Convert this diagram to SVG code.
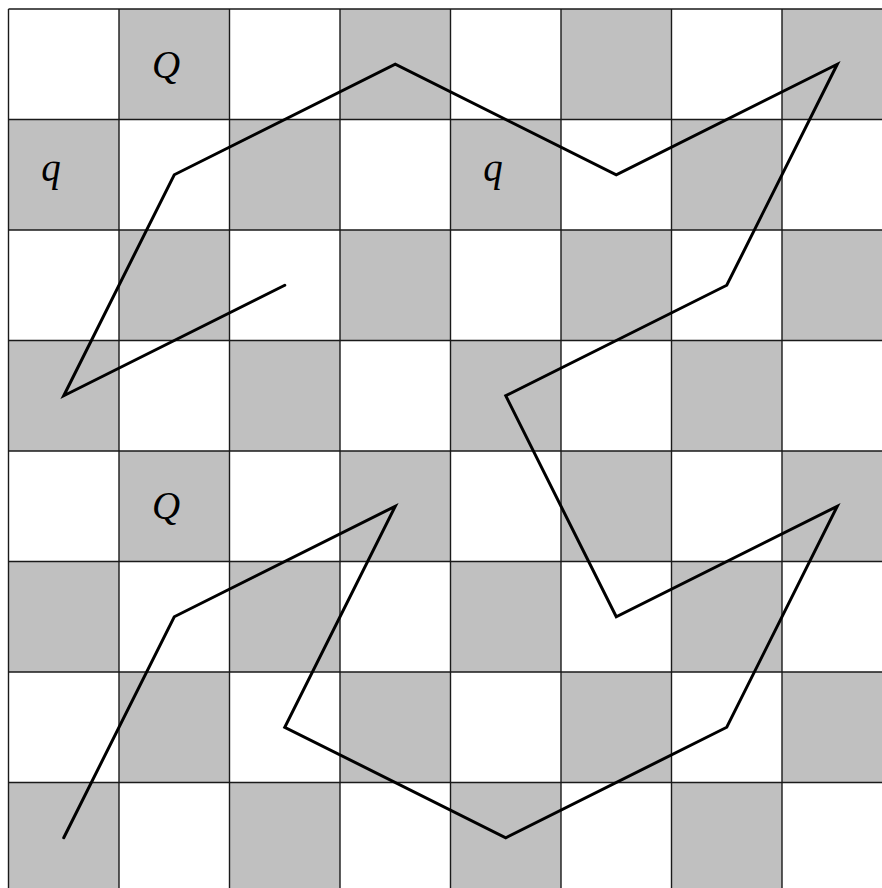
<svg xmlns="http://www.w3.org/2000/svg" width="882" height="888" viewBox="0 0 882 888">
  <style>
    .d { fill: #c0c0c0; }
    .g { stroke: #1a1a1a; stroke-width: 1.4; fill: none; }
    .p { stroke: #000; stroke-width: 3; fill: none; stroke-linejoin: miter; stroke-linecap: round; }
    .t { font-family: "Liberation Serif", "DejaVu Serif", serif; font-style: italic; font-size: 39px; fill: #000; text-anchor: middle; }
  </style>
  <rect width="882" height="888" fill="#fff"/>
  <g id="board">
    <g id="dark-squares">
      <rect class="d" x="119" y="9" width="110.5" height="110.5"/>
      <rect class="d" x="340" y="9" width="110.5" height="110.5"/>
      <rect class="d" x="561" y="9" width="110.5" height="110.5"/>
      <rect class="d" x="782" y="9" width="110.5" height="110.5"/>
      <rect class="d" x="8.5" y="119.5" width="110.5" height="110.5"/>
      <rect class="d" x="229.5" y="119.5" width="110.5" height="110.5"/>
      <rect class="d" x="450.5" y="119.5" width="110.5" height="110.5"/>
      <rect class="d" x="671.5" y="119.5" width="110.5" height="110.5"/>
      <rect class="d" x="119" y="230" width="110.5" height="110.5"/>
      <rect class="d" x="340" y="230" width="110.5" height="110.5"/>
      <rect class="d" x="561" y="230" width="110.5" height="110.5"/>
      <rect class="d" x="782" y="230" width="110.5" height="110.5"/>
      <rect class="d" x="8.5" y="340.5" width="110.5" height="110.5"/>
      <rect class="d" x="229.5" y="340.5" width="110.5" height="110.5"/>
      <rect class="d" x="450.5" y="340.5" width="110.5" height="110.5"/>
      <rect class="d" x="671.5" y="340.5" width="110.5" height="110.5"/>
      <rect class="d" x="119" y="451" width="110.5" height="110.5"/>
      <rect class="d" x="340" y="451" width="110.5" height="110.5"/>
      <rect class="d" x="561" y="451" width="110.5" height="110.5"/>
      <rect class="d" x="782" y="451" width="110.5" height="110.5"/>
      <rect class="d" x="8.5" y="561.5" width="110.5" height="110.5"/>
      <rect class="d" x="229.5" y="561.5" width="110.5" height="110.5"/>
      <rect class="d" x="450.5" y="561.5" width="110.5" height="110.5"/>
      <rect class="d" x="671.5" y="561.5" width="110.5" height="110.5"/>
      <rect class="d" x="119" y="672" width="110.5" height="110.5"/>
      <rect class="d" x="340" y="672" width="110.5" height="110.5"/>
      <rect class="d" x="561" y="672" width="110.5" height="110.5"/>
      <rect class="d" x="782" y="672" width="110.5" height="110.5"/>
      <rect class="d" x="8.5" y="782.5" width="110.5" height="110.5"/>
      <rect class="d" x="229.5" y="782.5" width="110.5" height="110.5"/>
      <rect class="d" x="450.5" y="782.5" width="110.5" height="110.5"/>
      <rect class="d" x="671.5" y="782.5" width="110.5" height="110.5"/>
    </g>
    <g id="grid" class="g">
      <path d="M8.5 9V888M119 9V888M229.5 9V888M340 9V888M450.5 9V888M561 9V888M671.5 9V888M782 9V888"/>
      <path d="M8.5 9H882M8.5 119.5H882M8.5 230H882M8.5 340.5H882M8.5 451H882M8.5 561.5H882M8.5 672H882M8.5 782.5H882"/>
    </g>
  </g>
  <g id="labels">
    <text class="t" x="166" y="78">Q</text>
    <text class="t" x="51" y="181">q</text>
    <text class="t" x="493" y="181">q</text>
    <text class="t" x="166" y="519">Q</text>
  </g>
  <g id="connectors">
    <polyline class="p" points="284.75,285.25 63.75,395.75 174.25,174.75 395.25,64.25 616.25,174.75 837.25,64.25 726.75,285.25 505.75,395.75 616.25,616.75 837.25,506.25 726.75,727.25 505.75,837.75 284.75,727.25 395.25,506.25 174.25,616.75 63.75,837.75"/>
  </g>
</svg>
